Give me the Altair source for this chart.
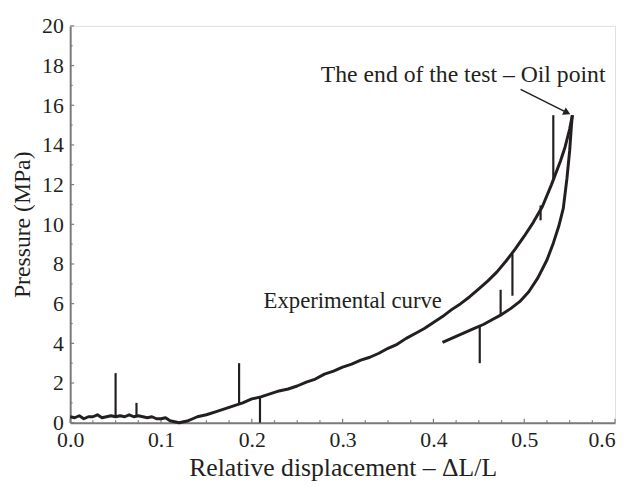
import altair as alt
import pandas as pd

# ---- data ----
load_x = [0.000, 0.005, 0.010, 0.015, 0.020, 0.025, 0.030, 0.035, 0.040, 0.045, 0.050, 0.055,
          0.060, 0.065, 0.070, 0.075, 0.080, 0.085, 0.090, 0.095, 0.100, 0.105, 0.110, 0.115,
          0.120, 0.125, 0.130, 0.135, 0.140, 0.150, 0.160, 0.170, 0.180, 0.190, 0.200, 0.210,
          0.220, 0.230, 0.240, 0.250, 0.260, 0.270, 0.280, 0.290, 0.300, 0.310, 0.320, 0.330,
          0.340, 0.350, 0.360, 0.370, 0.380, 0.390, 0.400, 0.410, 0.420, 0.430, 0.440, 0.450,
          0.460, 0.470, 0.480, 0.490, 0.500, 0.510, 0.520, 0.530, 0.540, 0.545, 0.550, 0.553]
load_y = [0.30, 0.25, 0.35, 0.20, 0.30, 0.30, 0.40, 0.25, 0.30, 0.35, 0.30, 0.35,
          0.30, 0.40, 0.30, 0.35, 0.30, 0.25, 0.30, 0.20, 0.20, 0.25, 0.10, 0.05,
          0.00, 0.05, 0.10, 0.20, 0.30, 0.40, 0.55, 0.70, 0.85, 1.00, 1.20, 1.30,
          1.45, 1.60, 1.70, 1.85, 2.05, 2.20, 2.45, 2.60, 2.80, 2.95, 3.15, 3.30,
          3.50, 3.75, 3.95, 4.25, 4.50, 4.75, 5.05, 5.35, 5.70, 6.00, 6.35, 6.75,
          7.15, 7.60, 8.15, 8.75, 9.40, 10.10, 10.90, 12.00, 13.20, 13.90, 14.80, 15.50]

unload_x = [0.553, 0.552, 0.550, 0.547, 0.543, 0.538, 0.532, 0.525, 0.515, 0.505, 0.495,
            0.485, 0.475, 0.465, 0.455, 0.445, 0.435, 0.425, 0.415, 0.410]
unload_y = [15.50, 15.00, 13.70, 12.30, 10.80, 9.90, 9.05, 8.20, 7.30, 6.60, 6.10,
            5.75, 5.45, 5.20, 4.95, 4.75, 4.55, 4.35, 4.15, 4.05]

spike_x = [0.050, 0.073, 0.186, 0.209, 0.451, 0.474, 0.487, 0.518, 0.532]
spike_y1 = [0.30, 0.30, 0.90, 1.25, 4.90, 5.40, 8.50, 10.95, 12.30]
spike_y2 = [2.50, 1.00, 3.00, 0.00, 3.00, 6.70, 6.40, 10.20, 15.50]

x_major = [0.0, 0.1, 0.2, 0.3, 0.4, 0.5, 0.6]
x_minor = [0.025, 0.05, 0.075, 0.125, 0.15, 0.175, 0.225, 0.25, 0.275, 0.325, 0.35, 0.375,
           0.425, 0.45, 0.475, 0.525, 0.55, 0.575]
y_major = [0, 2, 4, 6, 8, 10, 12, 14, 16, 18, 20]
y_minor = [1, 3, 5, 7, 9, 11, 13, 15, 17, 19]

arrow_x = [0.496, 0.546]
arrow_y = [16.8, 15.65]

label_text = ["The end of the test \u2013 Oil point", "Experimental curve"]
label_x = [0.276, 0.213]
label_y = [17.5, 6.15]
label_size = [24, 23]

# ---- tables ----
curve = pd.DataFrame({
    "x": load_x + unload_x,
    "y": load_y + unload_y,
    "branch": ["load"] * len(load_x) + ["unload"] * len(unload_x),
    "order": list(range(len(load_x))) + list(range(len(unload_x))),
})
spikes = pd.DataFrame({"x": spike_x, "y1": spike_y1, "y2": spike_y2})
arrow = pd.DataFrame({"x": [arrow_x[0]], "x2": [arrow_x[1]], "y": [arrow_y[0]], "y2": [arrow_y[1]]})
arrow_head = pd.DataFrame({"x": [arrow_x[1]], "y": [arrow_y[1]]})
labels = pd.DataFrame({"text": label_text, "x": label_x, "y": label_y, "size": label_size})

W, H = 552, 402
FONT = "Liberation Serif"
INK = "#231f20"
AXC = "#7a7a7a"

xs = alt.Scale(domain=[0, 0.6], nice=False)
ys = alt.Scale(domain=[0, 20], nice=False)

xaxis = alt.Axis(values=x_major, format=".1f", ticks=False, grid=False,
                 domainColor=AXC, domainWidth=2, labelFont=FONT, labelFontSize=22,
                 labelColor=INK, labelPadding=7, labelFlush=False,
                 labelAlign=alt.condition("datum.value > 0.59", alt.value("right"), alt.value("center")),
                 title="Relative displacement \u2013 \u0394L/L", titleFont=FONT,
                 titleFontSize=26, titleFontWeight="normal", titleColor=INK, titlePadding=4)
yaxis = alt.Axis(values=y_major, ticks=False, grid=False,
                 domainColor=AXC, domainWidth=2, labelFont=FONT, labelFontSize=22,
                 labelColor=INK, labelPadding=7,
                 title="Pressure (MPa)", titleFont=FONT, titleFontSize=24,
                 titleFontWeight="normal", titleColor=INK, titlePadding=7)

line = alt.Chart(curve).mark_line(color=INK, strokeWidth=3, strokeJoin="round").encode(
    x=alt.X("x:Q", scale=xs, axis=xaxis),
    y=alt.Y("y:Q", scale=ys, axis=yaxis),
    detail="branch:N",
    order="order:Q",
)

spk = alt.Chart(spikes).mark_rule(color=INK, strokeWidth=2.2).encode(
    x=alt.X("x:Q", scale=xs), y=alt.Y("y1:Q", scale=ys), y2="y2:Q")

def xticks(vals, length):
    return alt.Chart(pd.DataFrame({"v": vals})).mark_rule(color=AXC, strokeWidth=1.2).encode(
        x=alt.X("v:Q", scale=xs), y=alt.value(H), y2=alt.value(H - length))

def yticks(vals, length):
    return alt.Chart(pd.DataFrame({"v": vals})).mark_rule(color=AXC, strokeWidth=1.2).encode(
        y=alt.Y("v:Q", scale=ys), x=alt.value(0), x2=alt.value(length))

arr = alt.Chart(arrow).mark_rule(color=INK, strokeWidth=1.5).encode(
    x=alt.X("x:Q", scale=xs), x2="x2:Q", y=alt.Y("y:Q", scale=ys), y2="y2:Q")
head = alt.Chart(arrow_head).mark_point(shape="triangle", filled=True, color=INK,
                                        size=70, angle=117, opacity=1).encode(
    x=alt.X("x:Q", scale=xs), y=alt.Y("y:Q", scale=ys))

txt = alt.Chart(labels).mark_text(font=FONT, color=INK, align="left",
                                  baseline="middle").encode(
    x=alt.X("x:Q", scale=xs), y=alt.Y("y:Q", scale=ys), text="text:N",
    size=alt.Size("size:Q", scale=None, legend=None))

chart = alt.layer(
    xticks(x_major, 4), xticks(x_minor, 2.5), yticks(y_major, 4), yticks(y_minor, 2.5),
    line, spk, arr, head, txt
).properties(
    width=W, height=H,
    autosize=alt.AutoSizeParams(type="none"),
    padding={"left": 63, "top": 15, "right": 4, "bottom": 62},
).configure_view(stroke=None).configure(background="white")

chart.save("out.html", embed_options={"renderer": "svg", "actions": False})
